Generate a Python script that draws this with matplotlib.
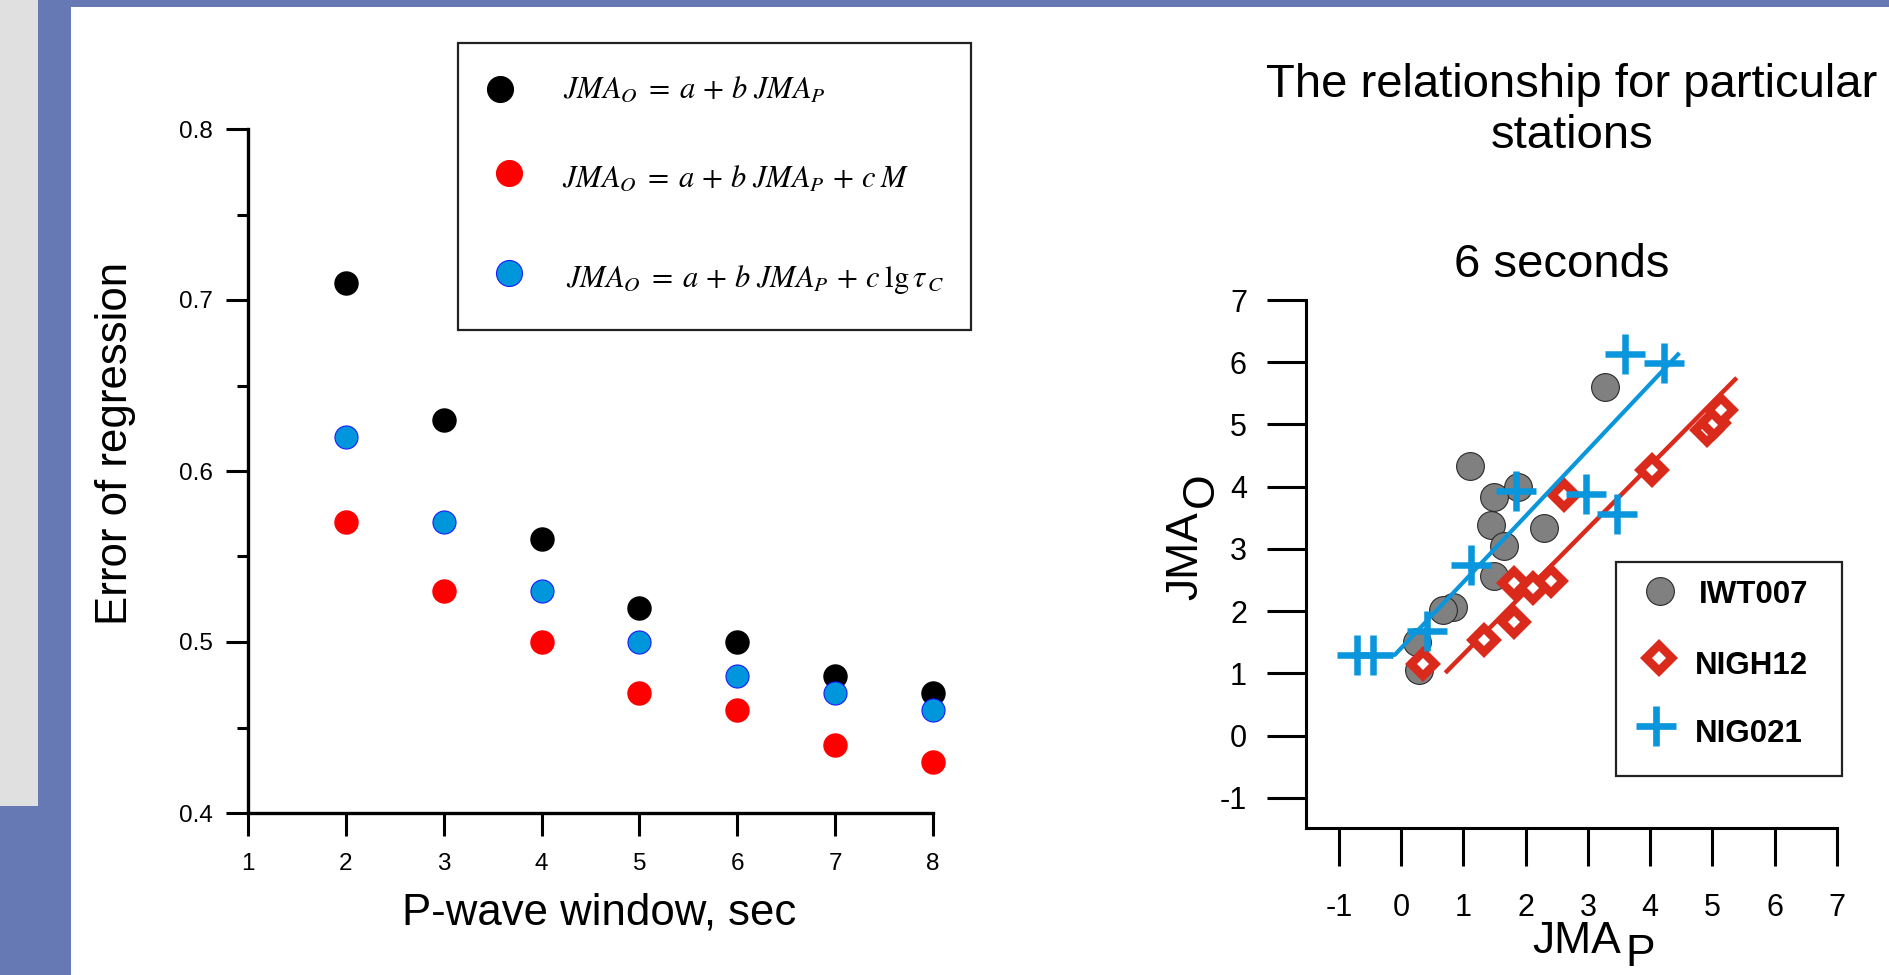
import matplotlib
matplotlib.use("Agg")
import matplotlib.pyplot as plt
from matplotlib.patches import Rectangle
from matplotlib.lines import Line2D

plt.rcParams['font.family'] = ['Liberation Sans', 'DejaVu Sans']
plt.rcParams['mathtext.fontset'] = 'stix'
plt.rcParams['axes.unicode_minus'] = False

# ---- data: left panel (error of regression vs window length)
windows = [2, 3, 4, 5, 6, 7, 8]
err_basic = [0.71, 0.63, 0.56, 0.52, 0.50, 0.48, 0.47]
err_mag = [0.57, 0.53, 0.50, 0.47, 0.46, 0.44, 0.43]
err_tau = [0.62, 0.57, 0.53, 0.50, 0.48, 0.47, 0.46]
left_xticks = [1, 2, 3, 4, 5, 6, 7, 8]
left_yticks = [0.4, 0.5, 0.6, 0.7, 0.8]
left_ylabels = ["0.4", "0.5", "0.6", "0.7", "0.8"]
left_yminor = [0.45, 0.55, 0.65, 0.75]
eq_labels = [r'$JMA_O\;=\;a\,+\,b\;JMA_P$',
             r'$JMA_O\;=\;a\,+\,b\;JMA_P\,+\,c\;M$',
             r'$JMA_O\;=\;a\,+\,b\;JMA_P\,+\,c\;\mathrm{lg}\,\tau_{\,C}$']

# ---- data: right panel (6 seconds, particular stations)
iwt_x = [3.28, 1.11, 1.87, 1.50, 1.45, 2.29, 1.65, 1.50, 0.84, 0.68, 0.26, 0.29]
iwt_y = [5.60, 4.34, 4.00, 3.84, 3.39, 3.33, 3.05, 2.56, 2.07, 2.02, 1.51, 1.06]
nigh_x = [0.36, 1.33, 1.82, 1.82, 2.12, 2.40, 2.61, 4.03, 4.91, 5.02, 5.14]
nigh_y = [1.16, 1.54, 1.82, 2.46, 2.37, 2.48, 3.86, 4.27, 4.91, 5.03, 5.24]
nig_x = [3.60, 4.22, 1.85, 2.97, 3.47, 1.12, 0.41, -0.45, -0.71]
nig_y = [6.13, 5.98, 3.93, 3.89, 3.57, 2.74, 1.68, 1.30, 1.30]
nigh_fit_x = [0.71, 5.39]
nigh_fit_y = [1.01, 5.75]
nig_fit_x = [-0.45, -0.10, 4.47]
nig_fit_y = [1.30, 1.30, 6.15]
right_ticks_x = [-1, 0, 1, 2, 3, 4, 5, 6, 7]
right_ticks_y = [-1, 0, 1, 2, 3, 4, 5, 6, 7]
stations = ["IWT007", "NIGH12", "NIG021"]

W, H = 1890, 975
PT = 0.72  # points per pixel at dpi 100


def fx(x):
    return x / W


def fy(y):
    return 1 - y / H


fig = plt.figure(figsize=(18.9, 9.75), dpi=100)

# slide background
BLUE_BG = '#6679b4'
fig.add_artist(Rectangle((0, fy(806)), fx(38), 806 / H, transform=fig.transFigure,
                         facecolor='#e0e0e0', edgecolor='none', zorder=0))
fig.add_artist(Rectangle((0, 0), fx(38), (975 - 806) / H, transform=fig.transFigure,
                         facecolor=BLUE_BG, edgecolor='none', zorder=0))
fig.add_artist(Rectangle((fx(38), 0), (71 - 38) / W, 1, transform=fig.transFigure,
                         facecolor=BLUE_BG, edgecolor='none', zorder=0))
fig.add_artist(Rectangle((fx(38), fy(7)), 1, 7 / H, transform=fig.transFigure,
                         facecolor=BLUE_BG, edgecolor='none', zorder=0))

# ================= left panel =================
ax1 = fig.add_axes([fx(248), fy(813), (933 - 248) / W, (813 - 129) / H])
ax1.plot(windows, err_basic, 'o', ms=16.6, color='black', mec='black', clip_on=False, zorder=3)
ax1.plot(windows, err_mag, 'o', ms=16.6, color='#ff0000', mec='#ff0000', clip_on=False, zorder=3)
ax1.plot(windows, err_tau, 'o', ms=16.6, color='#0096dc', mec='#1a1aff', mew=0.8,
         clip_on=False, zorder=4)
ax1.set_xlim(1, 8)
ax1.set_ylim(0.4, 0.8)
ax1.set_xticks(left_xticks)
ax1.set_yticks(left_yticks)
ax1.set_yticklabels(left_ylabels)
ax1.set_yticks(left_yminor, minor=True)
for s in ['top', 'right']:
    ax1.spines[s].set_visible(False)
for s in ['left', 'bottom']:
    ax1.spines[s].set_linewidth(2.4)
ax1.tick_params(axis='x', length=23 * PT, width=2.2, pad=17 * PT, labelsize=17.5)
ax1.tick_params(axis='y', which='major', length=22 * PT, width=2.2, pad=13 * PT, labelsize=17.5)
ax1.tick_params(axis='y', which='minor', length=11 * PT, width=2.2)

fig.text(fx(599), fy(925), "P-wave window, sec", fontsize=31.5, ha='center', va='baseline')
fig.text(fx(116), fy(443), "Error of regression", fontsize=31.5, rotation=90,
         ha='center', va='center')

# left legend (drawn box with equations)
fig.add_artist(Rectangle((fx(458), fy(330)), (971 - 458) / W, (330 - 43) / H,
                         transform=fig.transFigure, fill=False, edgecolor='#222222',
                         linewidth=1.6, zorder=5))
leg_pos = [(500, 89, 563, 98), (509, 173, 562, 187), (509, 273, 566, 287)]
leg_face = ['black', '#ff0000', '#0096dc']
leg_edge = ['black', '#ff0000', '#1a1aff']
for (mx, my, tx, ty), fc, ec, lab in zip(leg_pos, leg_face, leg_edge, eq_labels):
    fig.add_artist(Line2D([fx(mx)], [fy(my)], marker='o', ms=18.7, color=fc, mec=ec,
                          mew=0.8, linestyle='none', transform=fig.transFigure))
    fig.text(fx(tx), fy(ty), lab, fontsize=22, ha='left', va='baseline')

# ================= right panel =================
RED = '#d92a1c'
CYAN = '#0a96dc'
ax2 = fig.add_axes([fx(1306), fy(828), (1837 - 1306) / W, (828 - 300) / H])
ax2.plot(iwt_x, iwt_y, 'o', ms=20, color='#808080', mec='#2a2a2a', mew=0.8,
         linestyle='none', zorder=2)
ax2.plot(nigh_fit_x, nigh_fit_y, color=RED, lw=3.2, zorder=3, solid_capstyle='butt')
ax2.plot(nigh_x, nigh_y, 'D', ms=12.6, mfc='white', mec=RED, mew=6.1,
         linestyle='none', zorder=4)
ax2.plot(nig_fit_x, nig_fit_y, color=CYAN, lw=3.0, zorder=5, solid_capstyle='butt')
ax2.plot(nig_x, nig_y, '+', ms=28.8, mec=CYAN, mew=4.7, linestyle='none', zorder=6)
ax2.set_xlim(-1.526, 7)
ax2.set_ylim(-1.482, 7)
ax2.set_xticks(right_ticks_x)
ax2.set_yticks(right_ticks_y)
for s in ['top', 'right']:
    ax2.spines[s].set_visible(False)
for s in ['left', 'bottom']:
    ax2.spines[s].set_linewidth(2.2)
ax2.tick_params(axis='x', length=38 * PT, width=2.2, pad=27 * PT, labelsize=22)
ax2.tick_params(axis='y', length=39 * PT, width=2.2, pad=20 * PT, labelsize=22)

# titles
fig.text(fx(1572), fy(97), "The relationship for particular", fontsize=34,
         ha='center', va='baseline')
fig.text(fx(1572), fy(148), "stations", fontsize=34, ha='center', va='baseline')
fig.text(fx(1562), fy(277), "6 seconds", fontsize=34, ha='center', va='baseline')

# axis labels with lowered subscripts at full size
fig.text(fx(1532), fy(953), "JMA", fontsize=32, ha='left', va='baseline')
fig.text(fx(1625), fy(975), "P", fontsize=32, ha='left', va='bottom')
fig.text(fx(1197), fy(600), "JMA", fontsize=32, rotation=90, rotation_mode='anchor',
         ha='left', va='baseline')
fig.text(fx(1213), fy(507), "O", fontsize=32, rotation=90, rotation_mode='anchor',
         ha='left', va='baseline')

# right legend
fig.add_artist(Rectangle((fx(1616), fy(776)), (1842 - 1616) / W, (776 - 562) / H,
                         transform=fig.transFigure, fill=False, edgecolor='#222222',
                         linewidth=1.6, zorder=5))
fig.add_artist(Line2D([fx(1660)], [fy(591)], marker='o', ms=20, color='#808080',
                      mec='#2a2a2a', mew=0.8, linestyle='none', transform=fig.transFigure))
fig.add_artist(Line2D([fx(1659)], [fy(658)], marker='D', ms=13.7, mfc='white', mec=RED,
                      mew=6.1, linestyle='none', transform=fig.transFigure))
fig.add_artist(Line2D([fx(1656)], [fy(726)], marker='+', ms=29.5, mec=CYAN,
                      mew=4.8, linestyle='none', transform=fig.transFigure))
for name, tx, ty in zip(stations, [1699, 1695, 1695], [603, 674, 742]):
    fig.text(fx(tx), fy(ty), name, fontsize=22.5, fontweight='bold',
             ha='left', va='baseline')

fig.savefig("out.png", dpi=100)
